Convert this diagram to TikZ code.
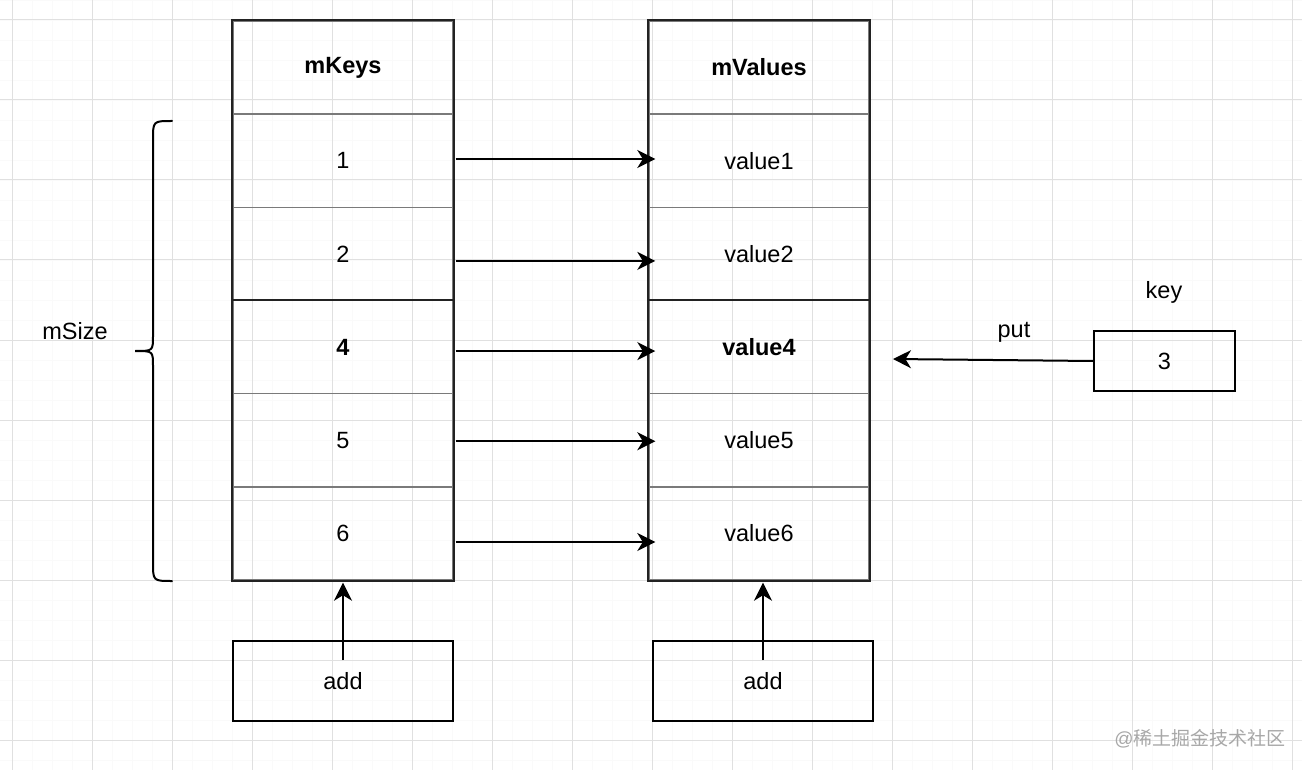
\documentclass[tikz,border=0pt]{standalone}
\usepackage{fontspec}
\setmainfont{Liberation Sans}
\newfontfamily\cjk{Noto Sans CJK SC}
\usetikzlibrary{arrows.meta}
\definecolor{border}{HTML}{222222}
\definecolor{sep}{HTML}{7A7A7A}
\definecolor{gridmajor}{HTML}{E0E0E0}
\definecolor{gridminor}{HTML}{FAFAFA}
\definecolor{wm}{HTML}{A8A8A8}
\tikzset{
  cell/.style={draw=sep, line width=1.4pt, minimum width=220pt, minimum height=93.17pt, inner sep=0pt, font=\fontsize{23.5}{28}\selectfont},
  outer/.style={draw=border, line width=2pt},
  box/.style={draw=black, line width=2pt, inner sep=0pt, font=\fontsize{23.5}{28}\selectfont},
  lbl/.style={inner sep=0pt, font=\fontsize{23.5}{28}\selectfont},
  arr/.style={line width=2pt, -{Stealth[length=18pt,width=18pt,inset=5.5pt]}},
  bracestyle/.style={line width=2pt, line cap=round},
}
\begin{document}
\begin{tikzpicture}[x=1pt,y=-1pt]
\useasboundingbox (0,0) rectangle (1302,770);
\fill[white] (0,0) rectangle (1302,770);
% grid
\foreach \gx in {12,32,...,1302} \draw[gridminor, line width=0.8pt] (\gx,0) -- (\gx,770);
\foreach \gy in {0,20,...,770} \draw[gridminor, line width=0.8pt] (0,\gy) -- (1302,\gy);
\foreach \gx in {12,92,...,1302} \draw[gridmajor, line width=1pt] (\gx,0) -- (\gx,770);
\foreach \gy in {20,100,...,770} \draw[gridmajor, line width=1pt] (0,\gy) -- (1302,\gy);

% mKeys table
\node[cell] (kh) at (343,67.58) {\bfseries mKeys};
\node[cell] (k1) at (343,160.75) {1};
\node[cell] (k2) at (343,253.92) {2};
\node[cell] (k3) at (343,347.08) {\bfseries 4};
\node[cell] (k4) at (343,440.25) {5};
\node[cell] (k5) at (343,533.42) {6};
\draw[outer] (kh.north west) rectangle (k5.south east);
\draw[outer] (k3.north west) -- (k3.north east);

% mValues table
\node[cell] (vh) at (759,67.58) {\bfseries mValues};
\node[cell] (v1) at (759,160.75) {value1};
\node[cell] (v2) at (759,253.92) {value2};
\node[cell] (v3) at (759,347.08) {\bfseries value4};
\node[cell] (v4) at (759,440.25) {value5};
\node[cell] (v5) at (759,533.42) {value6};
\draw[outer] (vh.north west) rectangle (v5.south east);
\draw[outer] (v3.north west) -- (v3.north east);

% arrows between tables
\draw[arr] ([xshift=2pt,yshift=1.75pt]k1.east) -- ([xshift=7pt,yshift=1.75pt]v1.west);
\draw[arr] ([xshift=2pt,yshift=-7pt]k2.east) -- ([xshift=7pt,yshift=-7pt]v2.west);
\draw[arr] ([xshift=2pt,yshift=-4pt]k3.east) -- ([xshift=7pt,yshift=-4pt]v3.west);
\draw[arr] ([xshift=2pt,yshift=-1pt]k4.east) -- ([xshift=7pt,yshift=-1pt]v4.west);
\draw[arr] ([xshift=2pt,yshift=-8.6pt]k5.east) -- ([xshift=7pt,yshift=-8.6pt]v5.west);

% add boxes
\node[box, minimum width=220pt, minimum height=80pt] (addk) at (343,681) {add};
\node[box, minimum width=220pt, minimum height=80pt] (addv) at (763,681) {add};
\draw[arr] ([yshift=21pt]addk.center) -- ([yshift=-2pt]k5.south);
\draw[arr] ([yshift=21pt]addv.center) -- ([xshift=4pt,yshift=-2pt]v5.south);

% key box
\node[box, minimum width=141pt, minimum height=60pt] (keybox) at (1164.5,361) {3};
\node[lbl] (keylbl) at (1164,292) {key};
\node[lbl] (putlbl) at (1014,332) {put};
\coordinate (puttip) at (893,359);
\draw[arr] (keybox.west) -- (puttip);

% brace and mSize
\draw[bracestyle] (172,121) .. controls (153,121) .. (153,140) -- (153,336)
  .. controls (153,351) .. (135,351) .. controls (153,351) .. (153,366)
  -- (153,562) .. controls (153,581) .. (172,581);
\node[lbl] (msize) at (75,331) {mSize};

% watermark
\node[inner sep=0pt, text=wm, font=\fontsize{19}{22}\selectfont] (wmark) at (1200,739) {@{\cjk 稀土掘金技术社区}};
\end{tikzpicture}
\end{document}
